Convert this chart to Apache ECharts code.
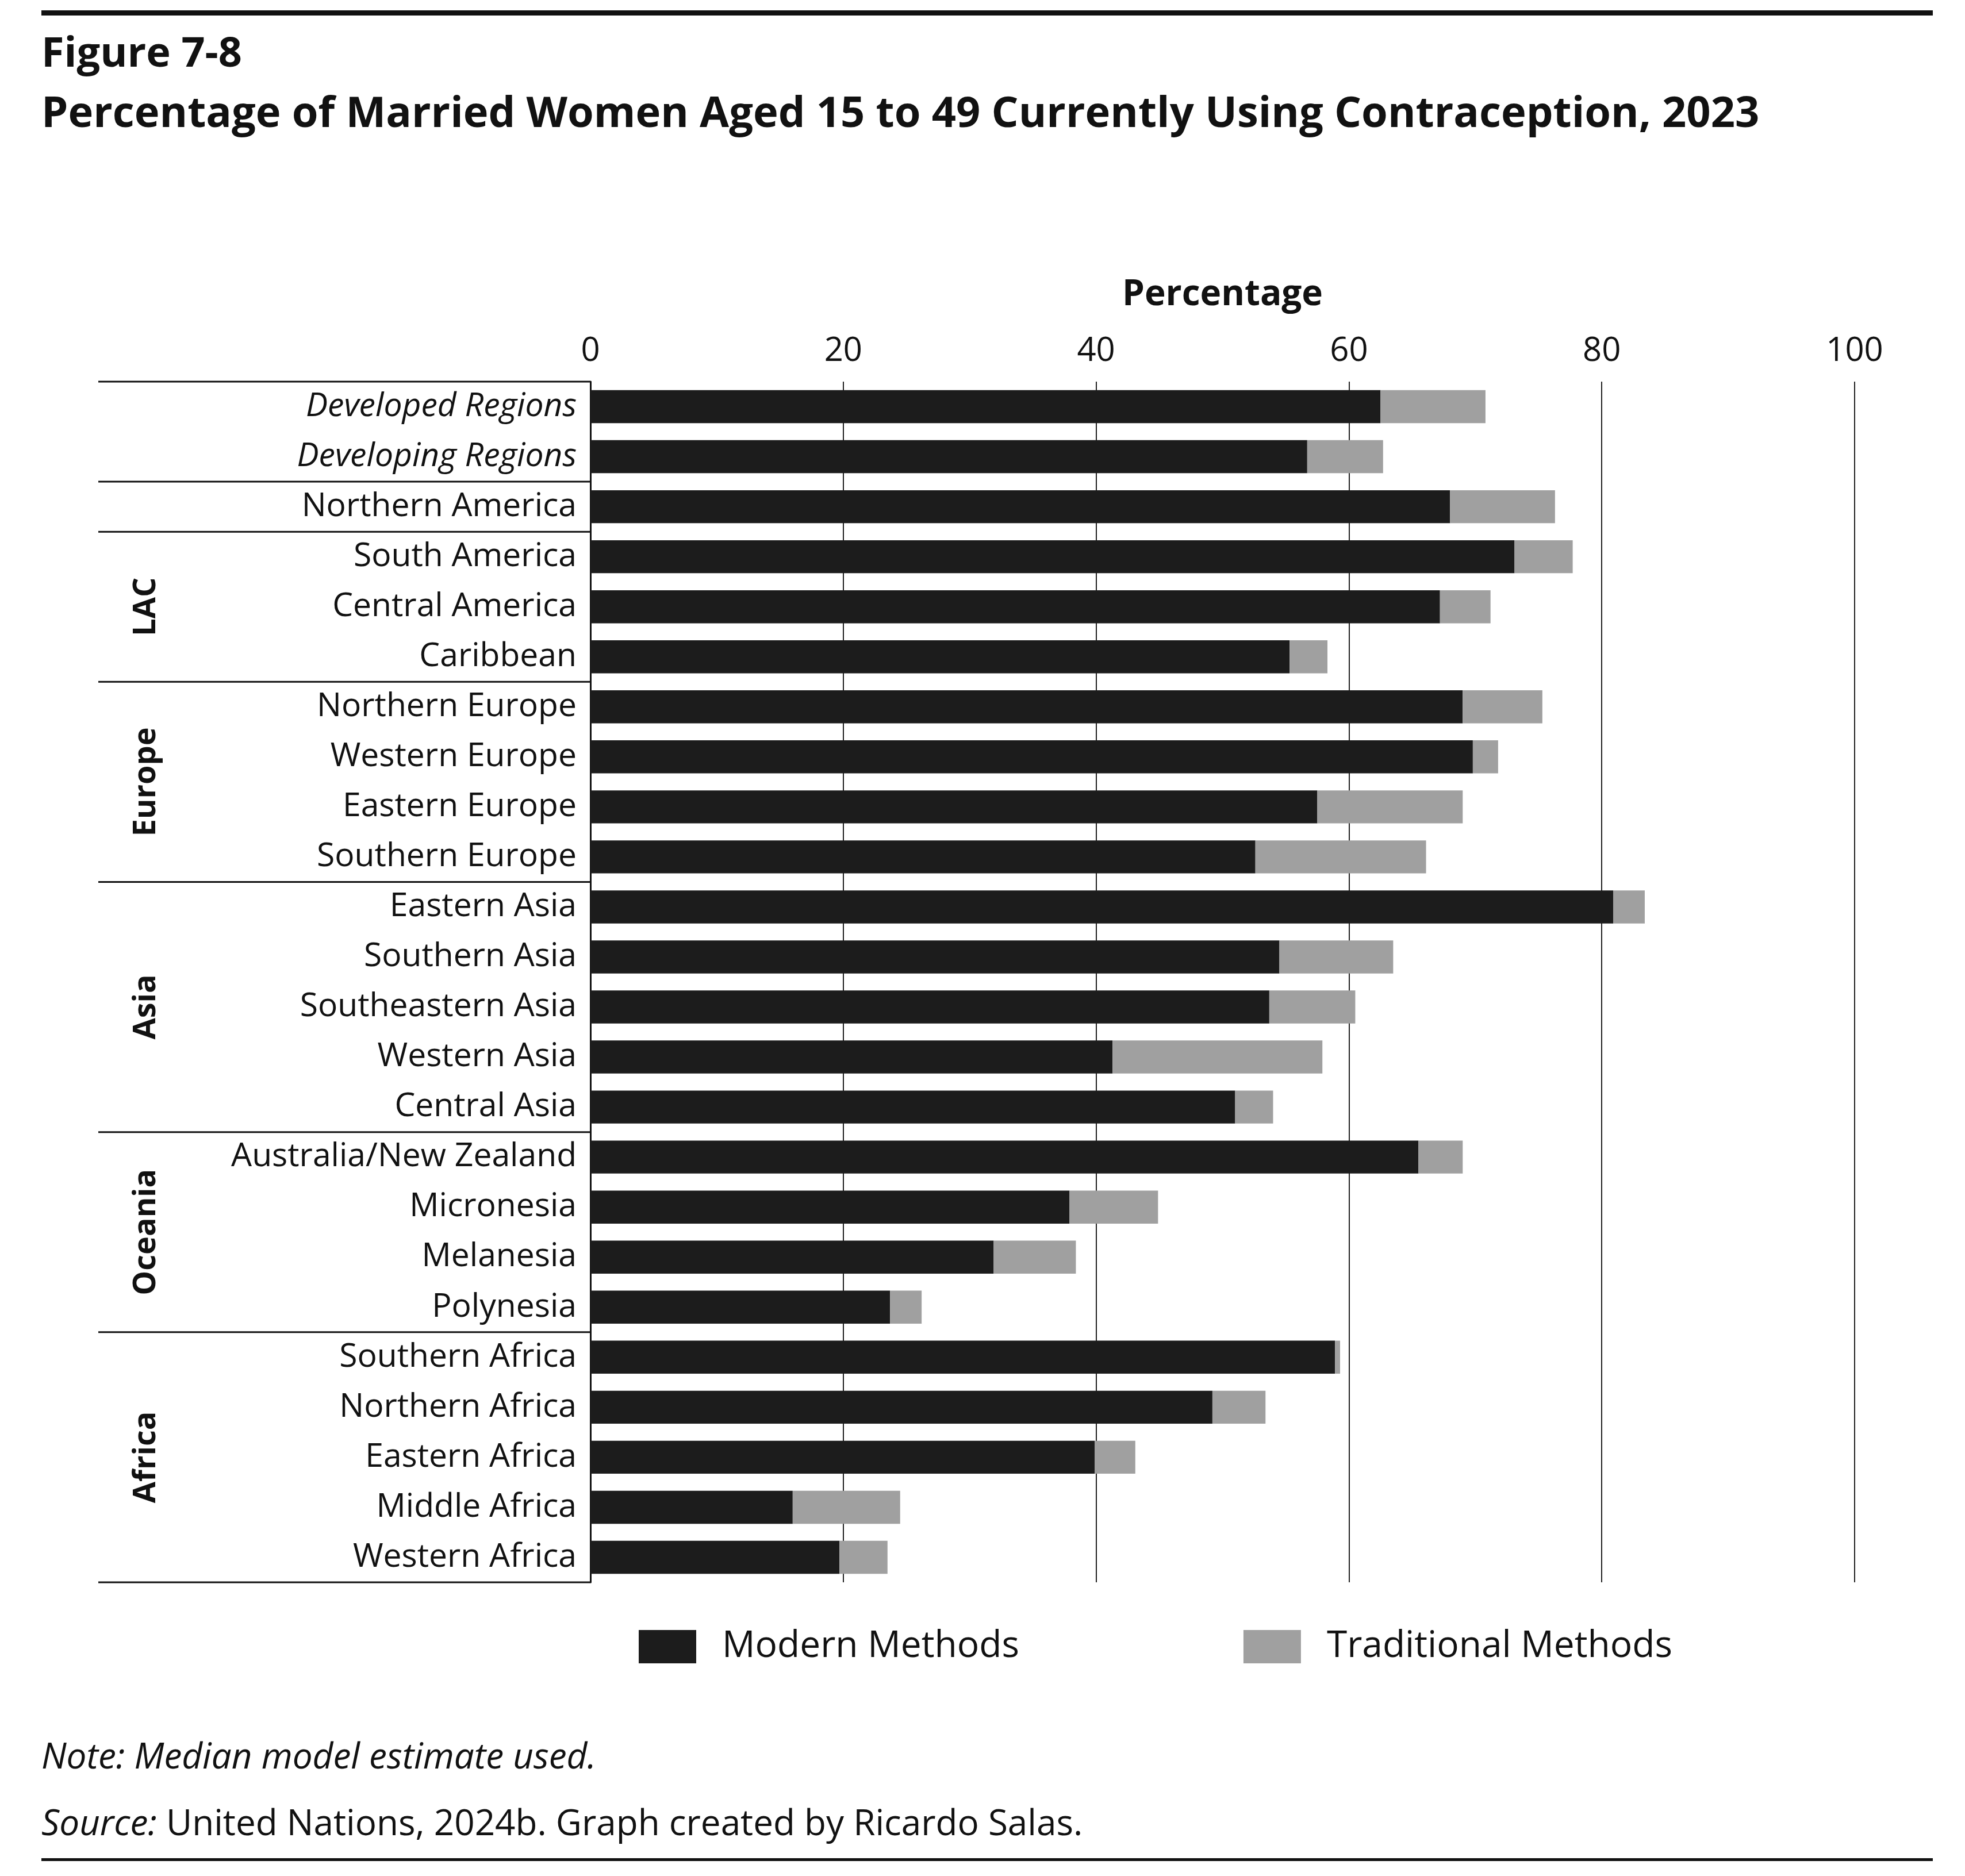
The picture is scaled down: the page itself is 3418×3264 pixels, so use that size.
<!DOCTYPE html>
<html>
<head>
<meta charset="utf-8">
<script src="https://cdn.jsdelivr.net/npm/echarts@6/dist/echarts.min.js"></script>
<style>
  html, body { margin: 0; padding: 0; background: #fff; }
  #chart { width: 3418px; height: 3264px; }
</style>
</head>
<body>
<div id="chart"></div>
<script>
var regions = ['Developed Regions', 'Developing Regions', 'Northern America',
    'South America', 'Central America', 'Caribbean',
    'Northern Europe', 'Western Europe', 'Eastern Europe', 'Southern Europe',
    'Eastern Asia', 'Southern Asia', 'Southeastern Asia', 'Western Asia', 'Central Asia',
    'Australia/New Zealand', 'Micronesia', 'Melanesia', 'Polynesia',
    'Southern Africa', 'Northern Africa', 'Eastern Africa', 'Middle Africa', 'Western Africa'];
var modern = [62.5, 56.7, 68.0, 73.1, 67.2, 55.3, 69.0, 69.8, 57.5, 52.6,
    80.9, 54.5, 53.7, 41.3, 51.0, 65.5, 37.9, 31.9, 23.7, 58.9, 49.2, 39.9, 16.0, 19.7];
var traditional = [8.3, 6.0, 8.3, 4.6, 4.0, 3.0, 6.3, 2.0, 11.5, 13.5,
    2.5, 9.0, 6.8, 16.6, 3.0, 3.5, 7.0, 6.5, 2.5, 0.4, 4.2, 3.2, 8.5, 3.8];
var italicRegions = ['Developed Regions', 'Developing Regions'];
// groups: [label, first index, last index]
var groups = [['LAC', 3, 5], ['Europe', 6, 9], ['Asia', 10, 14], ['Oceania', 15, 18], ['Africa', 19, 23]];
// rows after which a separator line is drawn (-1 = top)
var separators = [-1, 1, 2, 5, 9, 14, 18, 23];

var font = '"Open Sans", "Noto Sans", sans-serif';
var myChart = echarts.init(document.getElementById('chart'));
var option = {
    animation: false,
    textStyle: {fontFamily: font},
    grid: {left: 1027, right: 192, top: 664, bottom: 511},
    xAxis: {
        type: 'value', position: 'top', min: 0, max: 100, interval: 20,
        name: 'Percentage', nameLocation: 'middle', nameGap: 120,
        nameTextStyle: {fontSize: 62, fontWeight: 'bold', color: '#111', fontFamily: font},
        axisLine: {show: false}, axisTick: {show: false},
        axisLabel: {fontSize: 58, color: '#111', margin: 24, fontFamily: font},
        splitLine: {lineStyle: {color: '#222', width: 2}}
    },
    yAxis: {
        type: 'category', inverse: true, data: regions,
        axisLine: {lineStyle: {color: '#111', width: 3}}, axisTick: {show: false},
        axisLabel: {
            fontSize: 57, color: '#111', margin: 24, fontFamily: font,
            formatter: function (v) {
                return italicRegions.indexOf(v) >= 0 ? '{it|' + v + '}' : v;
            },
            rich: {it: {fontStyle: 'italic', fontSize: 57, color: '#111', fontFamily: font}}
        }
    },
    legend: {
        bottom: 362, left: 1106, itemGap: 390, itemWidth: 100, itemHeight: 58, icon: 'rect',
        textStyle: {fontSize: 64, color: '#111', padding: [0, 0, 0, 40], fontFamily: font},
        data: ['Modern Methods', 'Traditional Methods']
    },
    series: [
        {name: 'Modern Methods', type: 'bar', stack: 't', data: modern,
            barWidth: '66%', itemStyle: {color: '#1c1c1c'}},
        {name: 'Traditional Methods', type: 'bar', stack: 't', data: traditional,
            itemStyle: {color: '#a0a0a0'}}
    ]
};
myChart.setOption(option);

var y0 = myChart.convertToPixel({yAxisIndex: 0}, regions[0]);
var y1 = myChart.convertToPixel({yAxisIndex: 0}, regions[1]);
var band = y1 - y0;
function edgeAfter(i) { return y0 + (i + 0.5) * band; }
var gx0 = 171, gx1 = 1027;
var elems = [];
separators.forEach(function (i) {
    elems.push({type: 'line', shape: {x1: gx0, y1: edgeAfter(i), x2: gx1, y2: edgeAfter(i)},
        style: {stroke: '#111', lineWidth: 3}});
});
groups.forEach(function (g) {
    var yc = (edgeAfter(g[1] - 1) + edgeAfter(g[2])) / 2;
    elems.push({type: 'text', x: 255, y: yc, rotation: Math.PI / 2,
        style: {text: g[0], font: 'bold 54px ' + font, fill: '#111', align: 'center', verticalAlign: 'middle'}});
});
elems.push({type: 'rect', shape: {x: 72, y: 18, width: 3290, height: 9}, style: {fill: '#111'}});
elems.push({type: 'rect', shape: {x: 72, y: 3233, width: 3290, height: 5}, style: {fill: '#111'}});
elems.push({type: 'text', x: 72, y: 95, style: {text: 'Figure 7-8', font: 'bold 72px ' + font, fill: '#111', verticalAlign: 'middle'}});
elems.push({type: 'text', x: 72, y: 200, style: {text: 'Percentage of Married Women Aged 15 to 49 Currently Using Contraception, 2023', font: 'bold 74px ' + font, fill: '#111', verticalAlign: 'middle'}});
elems.push({type: 'text', x: 72, y: 3059, style: {text: 'Note: Median model estimate used.', font: 'italic 62px ' + font, fill: '#111', verticalAlign: 'middle'}});
elems.push({type: 'text', x: 72, y: 3175, style: {
    text: '{i|Source:} United Nations, 2024b. Graph created by Ricardo Salas.',
    font: '62px ' + font, fill: '#111', verticalAlign: 'middle',
    rich: {i: {fontStyle: 'italic', fontSize: 62, fontFamily: font, fill: '#111'}}}});
myChart.setOption({graphic: {elements: elems}});
</script>
</body>
</html>
